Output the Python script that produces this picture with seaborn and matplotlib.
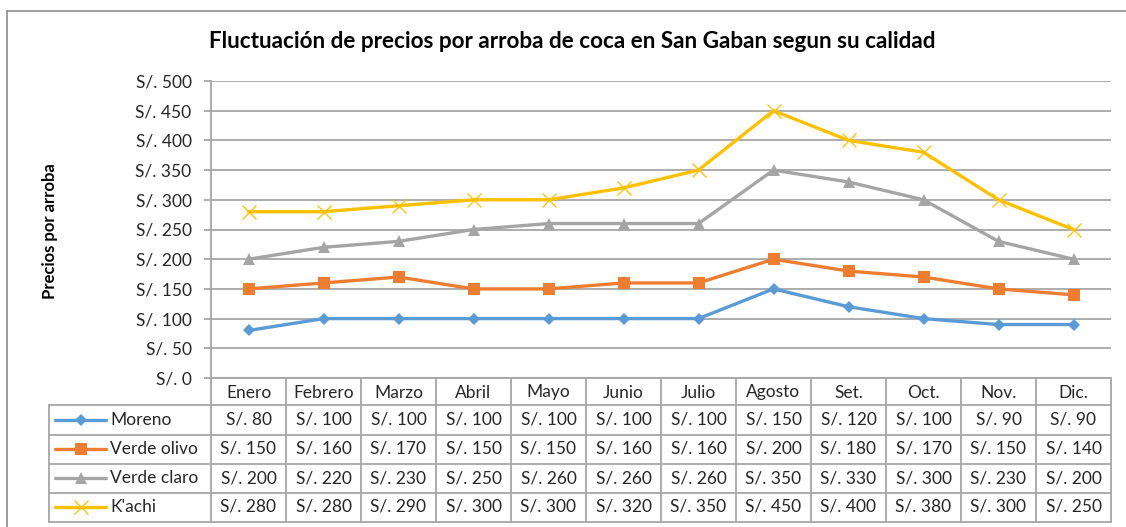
import matplotlib
matplotlib.use("Agg")
import matplotlib.pyplot as plt
import seaborn as sns
import numpy as np
from matplotlib.lines import Line2D

months = ["Enero", "Febrero", "Marzo", "Abril", "Mayo", "Junio", "Julio",
          "Agosto", "Set.", "Oct.", "Nov.", "Dic."]
series_names = ["Moreno", "Verde olivo", "Verde claro", "K'achi"]
moreno = [80, 100, 100, 100, 100, 100, 100, 150, 120, 100, 90, 90]
verde_olivo = [150, 160, 170, 150, 150, 160, 160, 200, 180, 170, 150, 140]
verde_claro = [200, 220, 230, 250, 260, 260, 260, 350, 330, 300, 230, 200]
kachi = [280, 280, 290, 300, 300, 320, 350, 450, 400, 380, 300, 250]
y_ticks = [0, 50, 100, 150, 200, 250, 300, 350, 400, 450, 500]

title = "Fluctuación de precios por arroba de coca en San Gaban segun su calidad"
ylabel = "Precios por arroba"

sns.set_theme(style="white")
plt.rcParams['font.family'] = ['Lato', 'DejaVu Sans']

W, H = 1126, 527
fig = plt.figure(figsize=(W / 100, H / 100), dpi=100)

def fx(px):
    return px / W

def fy(py):
    return 1 - py / H

# outer chart border
fig.add_artist(Line2D([fx(7), fx(7)], [fy(11), fy(527)], color="#8c8c8c", lw=1.2))
fig.add_artist(Line2D([fx(7), fx(1126)], [fy(11), fy(11)], color="#8c8c8c", lw=1.2))

L, R, T, B = 211, 1111, 81, 378
ax = fig.add_axes([fx(L), fy(B), fx(R - L), (B - T) / H])

colors = ["#5B9BD5", "#ED7D31", "#A5A5A5", "#FFC000"]
markers = ["D", "s", "^", "x"]
msizes = [6, 8, 9, 10]
data = [moreno, verde_olivo, verde_claro, kachi]
x = np.arange(len(months))
for name, vals, c, m, ms in zip(series_names, data, colors, markers, msizes):
    sns.lineplot(x=x, y=vals, ax=ax, color=c, lw=2.4, marker=m, markersize=ms,
                 markeredgecolor=c, markeredgewidth=0.9 if m == "x" else 0,
                 label=name, legend=False)

ax.set_xlim(-0.5, len(months) - 0.5)
ax.set_ylim(0, 500)
ax.set_yticks(y_ticks)
ax.set_yticklabels([f"S/. {v}" for v in y_ticks], fontsize=12.5, color="#262626")
ax.set_xticks([])
ax.grid(axis="y", color="#a6a6a6", lw=1.3)
ax.set_axisbelow(True)
for s in ["top", "right", "bottom"]:
    ax.spines[s].set_visible(False)
ax.spines["left"].set_color("#a6a6a6")
ax.spines["left"].set_linewidth(1.3)
ax.tick_params(axis="y", left=True, length=5, width=1.3, color="#a6a6a6", pad=9)
ax.set_ylabel("")

fig.text(fx(572), fy(42), title, ha="center", va="center", fontsize=16.2,
         fontweight="bold", color="#000000")
fig.text(fx(50), fy(231), ylabel, ha="center", va="center", rotation=90,
         fontsize=12, fontweight="bold", color="#000000")

# data table
tax = fig.add_axes([0, 0, 1, 1])
tax.set_xlim(0, W)
tax.set_ylim(H, 0)
tax.axis("off")
gc = "#a6a6a6"
col_w = (R - L) / len(months)
rows_y = [378, 405, 434.5, 463.5, 492.5, 521.5]
tax.plot([L, R], [rows_y[0], rows_y[0]], color=gc, lw=1.3)
for i in range(len(months) + 1):
    xx = L + i * col_w
    tax.plot([xx, xx], [rows_y[0], rows_y[-1]], color=gc, lw=1.3)
tax.plot([49, 49], [rows_y[1], rows_y[-1]], color=gc, lw=1.3)
for yy in rows_y[1:]:
    tax.plot([49, R], [yy, yy], color=gc, lw=1.3)
for i, mname in enumerate(months):
    tax.text(L + (i + 0.5) * col_w, (rows_y[0] + rows_y[1]) / 2 + 1, mname,
             ha="center", va="center", fontsize=12.5, color="#262626")
for r, (name, vals, c, m, ms) in enumerate(zip(series_names, data, colors, markers, msizes)):
    yc = (rows_y[r + 1] + rows_y[r + 2]) / 2
    tax.plot([55, 106], [yc, yc], color=c, lw=2.4)
    tax.plot([80.5], [yc], color=c, marker=m, markersize=ms,
             markeredgecolor=c, markeredgewidth=0.9 if m == "x" else 0)
    tax.text(110, yc, name, ha="left", va="center", fontsize=12.5, color="#262626")
    for i, v in enumerate(vals):
        tax.text(L + (i + 0.5) * col_w, yc, f"S/. {v}", ha="center", va="center",
                 fontsize=12.5, color="#262626")

fig.savefig("out.png", dpi=100)
